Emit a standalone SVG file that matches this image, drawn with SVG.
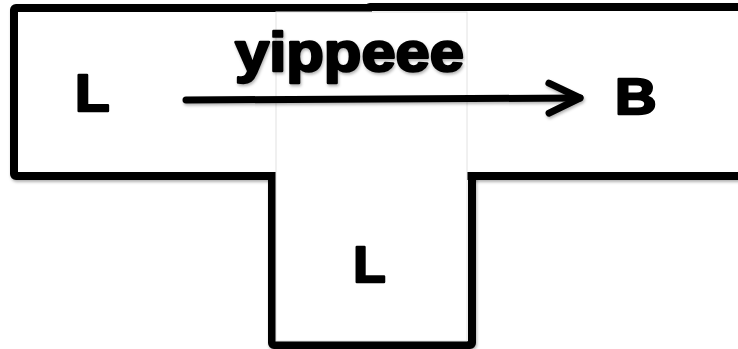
<svg xmlns="http://www.w3.org/2000/svg" width="738" height="349" viewBox="0 0 738 349">
  <style>
    .box { fill: #ffffff; stroke: #000000; stroke-width: 8; stroke-linejoin: round; }
    .panel { fill: #ffffff; stroke: #e2e2e2; stroke-width: 1; }
    .lbl { font-family: "Liberation Sans", Arial, sans-serif; font-weight: bold; fill: #000000; stroke: #000000; stroke-width: 2.4; stroke-linejoin: round; }
    .edge { fill: none; stroke: #000000; stroke-width: 7; stroke-linecap: round; stroke-linejoin: round; }
  </style>
  <defs>
    <filter id="sh" filterUnits="userSpaceOnUse" x="0" y="0" width="760" height="360">
      <feDropShadow dx="1" dy="2" stdDeviation="1.5" flood-color="#000000" flood-opacity="0.3"/>
    </filter>
    <marker id="arrow" markerUnits="userSpaceOnUse" markerWidth="50" markerHeight="50" viewBox="-40 -25 50 50" refX="0" refY="0" orient="auto" overflow="visible">
      <path d="M-31,-15 L0,0 L-31,15" fill="none" stroke="#000000" stroke-width="7" stroke-linecap="round" stroke-linejoin="round"/>
    </marker>
  </defs>
  <rect width="738" height="349" fill="#ffffff"/>
  <g id="node-L-left" filter="url(#sh)">
    <rect class="box" x="14" y="8" width="356" height="168" rx="2"/>
  </g>
  <g id="node-B" filter="url(#sh)">
    <rect class="box" x="368" y="7" width="400" height="169" rx="2"/>
  </g>
  <g id="node-L-bottom" filter="url(#sh)">
    <rect class="box" x="272" y="176" width="200" height="169" rx="2"/>
  </g>
  <g id="panel">
    <rect class="panel" x="276" y="12" width="191" height="329"/>
  </g>
  <g id="labels">
    <text class="lbl" x="75" y="110.8" font-size="51" textLength="34.6" lengthAdjust="spacingAndGlyphs">L</text>
    <text class="lbl" x="615" y="113.8" font-size="50" textLength="41.5" lengthAdjust="spacingAndGlyphs">B</text>
    <text class="lbl" x="353.3" y="281.8" font-size="50" textLength="32.4" lengthAdjust="spacingAndGlyphs">L</text>
  </g>
  <g id="connectors" filter="url(#sh)">
    <path class="edge" d="M186,100 L580,98" marker-end="url(#arrow)"/>
    <text class="lbl" x="235" y="71" font-size="55" textLength="229" lengthAdjust="spacingAndGlyphs">yippeee</text>
  </g>
</svg>
